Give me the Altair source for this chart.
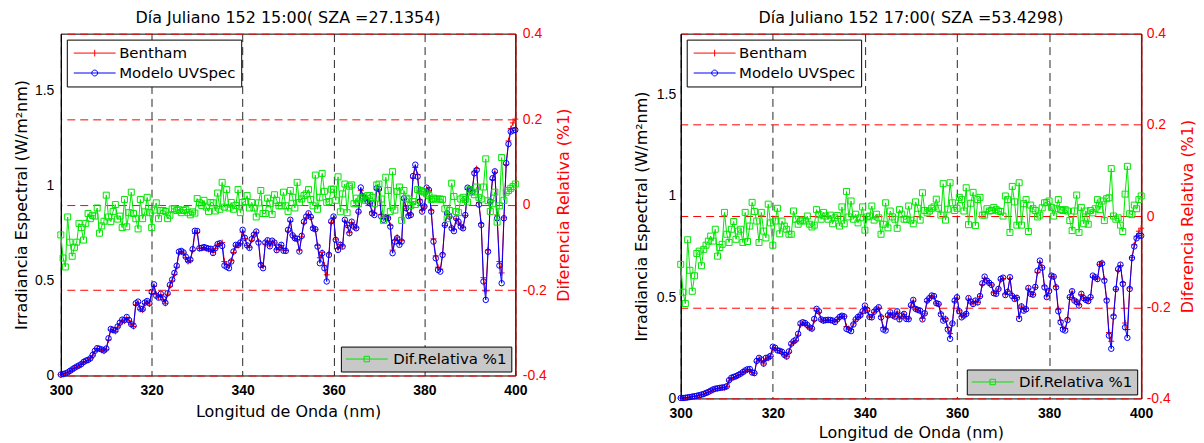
import altair as alt
import pandas as pd

TITLES = ["Día Juliano 152 15:00( SZA =27.1354)", "Día Juliano 152 17:00( SZA =53.4298)"]
SERIES = ["Bentham", "Modelo UVSpec"]
DIFF_NAME = "Dif.Relativa %1"
X_TICKS = [300, 320, 340, 360, 380, 400]
Y_TICKS = [0, 0.5, 1, 1.5]
R_TICKS = [-0.4, -0.2, 0, 0.2, 0.4]
WL_START = 300.0
WL_STEP = 0.5

# ---------------- left panel (15:00) ----------------
LEFT_MODEL = [
    0.005, 0.008, 0.011, 0.016, 0.024, 0.032, 0.040, 0.047, 0.053, 0.060,
    0.071, 0.078, 0.082, 0.090, 0.108, 0.130, 0.144, 0.141, 0.137, 0.132,
    0.142, 0.196, 0.245, 0.240, 0.237, 0.258, 0.278, 0.294, 0.291, 0.308,
    0.292, 0.270, 0.262, 0.380, 0.389, 0.352, 0.350, 0.384, 0.392, 0.380,
    0.440, 0.480, 0.420, 0.410, 0.430, 0.405, 0.383, 0.433, 0.477, 0.505,
    0.540, 0.578, 0.652, 0.656, 0.648, 0.625, 0.606, 0.610, 0.665, 0.762,
    0.761, 0.670, 0.672, 0.676, 0.672, 0.668, 0.667, 0.645, 0.670, 0.692,
    0.696, 0.682, 0.579, 0.572, 0.565, 0.600, 0.653, 0.688, 0.688, 0.700,
    0.767, 0.725, 0.685, 0.672, 0.718, 0.742, 0.758, 0.700, 0.582, 0.565,
    0.700, 0.712, 0.680, 0.710, 0.700, 0.660, 0.676, 0.688, 0.657, 0.656,
    0.767, 0.820, 0.738, 0.723, 0.720, 0.653, 0.735, 0.810, 0.837, 0.854,
    0.835, 0.775, 0.770, 0.679, 0.591, 0.644, 0.565, 0.495, 0.635, 0.812,
    0.837, 0.714, 0.661, 0.688, 0.679, 0.820, 0.793, 0.749, 0.810, 0.784,
    0.775, 0.863, 0.990, 0.942, 0.933, 0.916, 0.907, 0.854, 0.845, 0.986,
    0.982, 0.837, 0.820, 0.832, 0.828, 0.784, 0.644, 0.705, 0.723, 0.688,
    0.705, 0.933, 0.881, 0.840, 0.845, 1.050, 1.110, 1.047, 0.916, 0.863,
    0.890, 0.989, 0.977, 0.863, 0.705, 0.617, 0.556, 0.547, 0.635, 0.793,
    0.854, 0.837, 0.775, 0.760, 0.828, 0.810, 0.784, 0.775, 0.845, 0.989,
    0.982, 0.968, 1.065, 1.082, 0.900, 0.793, 0.495, 0.398, 0.652, 0.916,
    1.039, 1.075, 0.828, 0.579, 0.486, 0.828, 1.118, 1.219, 1.284, 1.290,
    1.293,
]
LEFT_BENTHAM = [
    0.004, 0.006, 0.010, 0.015, 0.022, 0.030, 0.038, 0.045, 0.051, 0.058,
    0.068, 0.075, 0.080, 0.088, 0.104, 0.126, 0.140, 0.139, 0.133, 0.128,
    0.138, 0.188, 0.240, 0.236, 0.232, 0.254, 0.272, 0.290, 0.286, 0.302,
    0.288, 0.268, 0.258, 0.372, 0.382, 0.348, 0.345, 0.378, 0.386, 0.376,
    0.432, 0.470, 0.428, 0.412, 0.425, 0.400, 0.380, 0.428, 0.470, 0.498,
    0.532, 0.570, 0.645, 0.652, 0.645, 0.620, 0.600, 0.605, 0.658, 0.748,
    0.752, 0.668, 0.670, 0.672, 0.668, 0.664, 0.662, 0.648, 0.668, 0.688,
    0.695, 0.700, 0.600, 0.585, 0.578, 0.605, 0.648, 0.682, 0.684, 0.695,
    0.755, 0.722, 0.685, 0.675, 0.712, 0.738, 0.752, 0.705, 0.590, 0.575,
    0.692, 0.708, 0.682, 0.705, 0.698, 0.662, 0.672, 0.684, 0.660, 0.658,
    0.760, 0.812, 0.740, 0.720, 0.716, 0.660, 0.730, 0.802, 0.830, 0.848,
    0.832, 0.780, 0.768, 0.685, 0.620, 0.648, 0.580, 0.530, 0.640, 0.805,
    0.830, 0.718, 0.668, 0.690, 0.682, 0.812, 0.790, 0.752, 0.805, 0.782,
    0.778, 0.860, 0.975, 0.945, 0.935, 0.920, 0.905, 0.862, 0.855, 0.978,
    0.978, 0.848, 0.828, 0.835, 0.830, 0.790, 0.660, 0.710, 0.728, 0.695,
    0.710, 0.925, 0.878, 0.845, 0.850, 1.040, 1.095, 1.058, 0.925, 0.870,
    0.892, 0.982, 0.975, 0.870, 0.720, 0.630, 0.570, 0.560, 0.640, 0.790,
    0.850, 0.835, 0.780, 0.770, 0.825, 0.808, 0.790, 0.778, 0.842, 0.980,
    0.978, 0.972, 1.072, 1.090, 0.910, 0.800, 0.515, 0.445, 0.660, 0.910,
    1.032, 1.070, 0.845, 0.600, 0.540, 0.830, 1.110, 1.235, 1.300, 1.330,
    1.350,
]
LEFT_DIFF = [
    -0.071, -0.125, -0.146, -0.029, -0.088, -0.121, -0.100, -0.088, -0.044, -0.054,
    -0.083, -0.044, -0.021, -0.033, -0.025, -0.027, -0.008, -0.067, -0.050, -0.039,
    0.022, -0.029, -0.040, -0.016, 0.000, -0.034, -0.027, -0.054, 0.012, -0.052,
    -0.019, 0.029, -0.021, -0.033, -0.057, 0.012, -0.033, -0.017, 0.017, -0.019,
    -0.054, -0.013, 0.004, -0.033, -0.014, -0.014, -0.016, -0.033, -0.025, -0.010,
    -0.010, -0.014, -0.012, -0.019, -0.014, -0.012, -0.019, -0.024, -0.017, -0.020,
    0.014, 0.004, -0.002, 0.010, -0.006, -0.016, 0.005, 0.004, -0.015, 0.027,
    -0.011, 0.052, -0.006, 0.035, -0.008, 0.005, -0.011, -0.002, 0.035, -0.019,
    0.005, 0.007, 0.021, -0.008, 0.005, -0.008, -0.029, 0.004, 0.033, -0.021,
    -0.021, 0.015, 0.002, -0.023, 0.023, 0.010, -0.003, -0.003, 0.029, -0.003,
    -0.016, 0.033, 0.017, -0.008, 0.052, 0.005, 0.013, 0.021, 0.025, 0.035,
    0.012, -0.003, 0.069, -0.011, 0.017, 0.073, 0.031, 0.005, 0.007, 0.036,
    0.036, 0.010, 0.065, -0.017, 0.025, 0.048, -0.019, 0.043, 0.046, 0.002,
    0.015, 0.002, 0.013, 0.017, 0.010, 0.021, 0.021, 0.017, 0.002, 0.046,
    0.048, 0.013, -0.037, 0.064, 0.033, -0.016, 0.077, -0.013, 0.031, 0.041,
    -0.037, 0.033, 0.015, 0.013, -0.002, 0.007, 0.000, 0.035, 0.033, 0.031,
    0.029, 0.025, 0.021, 0.012, 0.015, 0.013, 0.013, 0.013, 0.012, -0.010,
    -0.033, -0.014, 0.050, 0.019, -0.016, -0.019, 0.013, 0.017, 0.012, 0.006,
    0.035, 0.029, 0.023, 0.041, 0.017, 0.013, 0.041, 0.107, 0.009, -0.016,
    0.002, 0.029, -0.041, -0.003, 0.110, 0.010, 0.029, 0.033, 0.038, 0.042,
    0.048,
]

# ---------------- right panel (17:00) ----------------
RIGHT_MODEL = [
    0.002, 0.002, 0.003, 0.005, 0.007, 0.009, 0.011, 0.013, 0.016, 0.019,
    0.022, 0.027, 0.032, 0.038, 0.044, 0.048, 0.050, 0.052, 0.054, 0.055,
    0.060, 0.090, 0.102, 0.106, 0.110, 0.116, 0.122, 0.130, 0.138, 0.144,
    0.145, 0.128, 0.125, 0.185, 0.200, 0.192, 0.172, 0.200, 0.202, 0.210,
    0.255, 0.250, 0.237, 0.235, 0.230, 0.215, 0.207, 0.232, 0.270, 0.282,
    0.290, 0.319, 0.370, 0.376, 0.372, 0.362, 0.350, 0.345, 0.392, 0.442,
    0.430, 0.390, 0.384, 0.387, 0.388, 0.387, 0.384, 0.377, 0.390, 0.402,
    0.408, 0.404, 0.343, 0.338, 0.332, 0.365, 0.390, 0.402, 0.410, 0.430,
    0.458, 0.437, 0.402, 0.400, 0.428, 0.440, 0.450, 0.400, 0.340, 0.335,
    0.410, 0.425, 0.410, 0.404, 0.430, 0.390, 0.409, 0.417, 0.392, 0.391,
    0.460, 0.486, 0.442, 0.437, 0.433, 0.390, 0.420, 0.483, 0.495, 0.508,
    0.505, 0.470, 0.466, 0.415, 0.384, 0.390, 0.340, 0.294, 0.370, 0.483,
    0.499, 0.430, 0.400, 0.409, 0.417, 0.495, 0.478, 0.466, 0.483, 0.474,
    0.505, 0.568, 0.601, 0.581, 0.570, 0.560, 0.519, 0.516, 0.540, 0.590,
    0.596, 0.510, 0.525, 0.598, 0.505, 0.491, 0.496, 0.392, 0.454, 0.433,
    0.440, 0.545, 0.516, 0.512, 0.550, 0.630, 0.680, 0.645, 0.548, 0.500,
    0.530, 0.606, 0.601, 0.548, 0.430, 0.376, 0.340, 0.335, 0.387, 0.500,
    0.529, 0.483, 0.475, 0.458, 0.516, 0.495, 0.486, 0.480, 0.500, 0.606,
    0.598, 0.589, 0.663, 0.666, 0.581, 0.483, 0.310, 0.245, 0.404, 0.540,
    0.638, 0.660, 0.565, 0.351, 0.299, 0.540, 0.693, 0.750, 0.790, 0.803,
    0.803,
]
RIGHT_BENTHAM = [
    0.002, 0.002, 0.003, 0.005, 0.006, 0.008, 0.010, 0.012, 0.015, 0.018,
    0.021, 0.026, 0.030, 0.036, 0.042, 0.046, 0.049, 0.051, 0.052, 0.053,
    0.058, 0.086, 0.098, 0.103, 0.107, 0.113, 0.119, 0.127, 0.134, 0.140,
    0.142, 0.128, 0.124, 0.180, 0.195, 0.186, 0.170, 0.195, 0.198, 0.206,
    0.248, 0.245, 0.238, 0.234, 0.228, 0.214, 0.206, 0.228, 0.264, 0.276,
    0.285, 0.312, 0.362, 0.370, 0.368, 0.358, 0.346, 0.342, 0.385, 0.432,
    0.425, 0.388, 0.382, 0.385, 0.386, 0.385, 0.382, 0.378, 0.388, 0.400,
    0.406, 0.405, 0.355, 0.345, 0.340, 0.368, 0.388, 0.400, 0.406, 0.426,
    0.450, 0.432, 0.402, 0.401, 0.425, 0.437, 0.446, 0.405, 0.350, 0.342,
    0.405, 0.420, 0.408, 0.403, 0.426, 0.392, 0.406, 0.414, 0.394, 0.393,
    0.455, 0.480, 0.440, 0.435, 0.430, 0.395, 0.418, 0.478, 0.492, 0.504,
    0.502, 0.470, 0.465, 0.420, 0.392, 0.394, 0.350, 0.320, 0.372, 0.478,
    0.495, 0.432, 0.405, 0.410, 0.418, 0.490, 0.475, 0.466, 0.480, 0.474,
    0.502, 0.562, 0.592, 0.580, 0.570, 0.560, 0.522, 0.518, 0.540, 0.585,
    0.592, 0.515, 0.528, 0.592, 0.508, 0.494, 0.498, 0.405, 0.456, 0.438,
    0.444, 0.540, 0.515, 0.512, 0.548, 0.622, 0.670, 0.645, 0.555, 0.506,
    0.535, 0.602, 0.600, 0.552, 0.440, 0.385, 0.350, 0.345, 0.392, 0.498,
    0.525, 0.485, 0.478, 0.462, 0.512, 0.494, 0.487, 0.482, 0.498, 0.598,
    0.596, 0.590, 0.660, 0.670, 0.588, 0.490, 0.325, 0.282, 0.410, 0.538,
    0.632, 0.656, 0.572, 0.372, 0.340, 0.545, 0.695, 0.758, 0.800, 0.825,
    0.840,
]
RIGHT_DIFF = [
    -0.106, -0.167, -0.192, -0.052, -0.119, -0.165, -0.131, -0.082, -0.077, -0.109,
    -0.073, -0.064, -0.055, -0.044, -0.055, -0.029, -0.088, -0.069, -0.062, 0.008,
    -0.040, -0.058, -0.029, -0.012, -0.051, -0.033, -0.029, -0.058, 0.008, -0.056,
    -0.022, 0.030, 0.010, -0.011, -0.058, 0.008, -0.033, -0.048, 0.026, -0.015,
    -0.064, -0.011, 0.017, -0.039, -0.011, -0.022, -0.029, -0.040, -0.040, 0.011,
    -0.007, -0.018, -0.011, -0.009, -0.011, 0.000, -0.018, -0.024, -0.020, 0.014,
    0.003, -0.007, 0.008, 0.000, -0.007, 0.002, -0.017, -0.004, 0.001, -0.022,
    0.020, -0.017, 0.054, -0.002, 0.033, -0.007, 0.004, -0.015, -0.004, 0.020,
    -0.031, -0.002, 0.000, 0.022, -0.009, 0.004, -0.004, -0.040, -0.018, 0.029,
    -0.026, 0.011, -0.002, -0.007, -0.027, 0.014, 0.004, -0.007, -0.007, 0.022,
    -0.009, -0.017, 0.031, 0.017, -0.009, 0.051, 0.012, 0.007, 0.011, 0.017,
    0.020, 0.037, 0.017, 0.002, 0.071, -0.009, 0.015, 0.073, 0.029, 0.012,
    0.017, 0.041, 0.036, 0.011, 0.062, -0.019, 0.028, 0.052, -0.021, 0.036,
    0.041, 0.002, 0.002, 0.016, 0.011, 0.012, 0.019, 0.014, 0.011, 0.010,
    0.000, 0.044, 0.036, -0.036, 0.065, 0.031, -0.020, 0.073, -0.020, 0.027,
    0.036, -0.034, 0.024, 0.016, 0.012, -0.002, 0.002, 0.018, 0.029, 0.030,
    0.033, 0.019, 0.000, 0.016, 0.036, 0.014, 0.012, 0.014, 0.011, -0.010,
    -0.032, 0.011, 0.046, -0.036, 0.019, -0.017, 0.011, -0.018, 0.012, 0.007,
    0.016, 0.036, 0.014, 0.033, -0.010, 0.038, 0.040, 0.104, 0.000, -0.007,
    -0.004, -0.020, -0.034, 0.048, 0.109, 0.005, 0.003, 0.024, 0.016, 0.036,
    0.044,
]

for _lst in (LEFT_MODEL, LEFT_BENTHAM, LEFT_DIFF, RIGHT_MODEL, RIGHT_BENTHAM, RIGHT_DIFF):
    assert len(_lst) == 201, len(_lst)

RED = "#ff0000"
BLUE = "#0000ff"
GREEN = "#00e600"
PLUS = "M-1,0H1M0,-1V1"
LEG_PLUS = "M-1,0H1M0,-0.16V0.16"
LEG_CIRCLE = "M-1,0H1M0.14,0A0.14,0.14,0,1,1,-0.14,0A0.14,0.14,0,1,1,0.14,0"
LEG_SQUARE = "M-1,0H1M-0.13,-0.13H0.13V0.13H-0.13Z"
TXT_FONT = "DejaVu Sans"
NUM_FONT = "Liberation Sans"


def make_panel(title, model, bentham, diff, w, h, lp_l, tp_l, lp_r, tp_r, x_tp):
    n = len(model)
    wl = [WL_START + WL_STEP * i for i in range(n)]
    df_m = pd.DataFrame({"lam": wl, "val": model, "series": SERIES[1]})
    df_b = pd.DataFrame({"lam": wl, "val": bentham, "series": SERIES[0]})
    df_d = pd.DataFrame({"lam": wl, "dif": diff, "series": DIFF_NAME})

    x_axis = alt.Axis(values=X_TICKS, title="Longitud de Onda (nm)", grid=True,
                      gridColor="#000000", gridDash=[8, 5], gridWidth=1, gridOpacity=0.85,
                      ticks=False, domain=False, labelFlush=False,
                      labelFont=NUM_FONT, labelFontSize=14, labelFontWeight="bold",
                      labelColor="#000000", labelPadding=8,
                      titleFont=TXT_FONT, titleFontSize=16, titleFontWeight="normal",
                      titleColor="#000000", titlePadding=x_tp)
    x = alt.X("lam:Q", scale=alt.Scale(domain=[300, 400], nice=False, zero=False), axis=x_axis)

    y_axis = alt.Axis(values=Y_TICKS, format="~g", orient="left",
                      title="Irradiancia Espectral (W/m²nm)", grid=False, ticks=False,
                      domain=True, domainColor="#000000", labelFlush=False,
                      labelFont=NUM_FONT, labelFontSize=14, labelColor="#000000",
                      labelPadding=lp_l, titleFont=TXT_FONT, titleFontSize=16,
                      titleFontWeight="normal", titleColor="#000000", titlePadding=tp_l)
    y = alt.Y("val:Q", scale=alt.Scale(domain=[0, 1.8], nice=False, zero=False), axis=y_axis)

    r_axis = alt.Axis(values=R_TICKS, orient="right",
                      labelExpr="datum.value < 0 ? '-' + format(-datum.value, '~g') : format(datum.value, '~g')",
                      title="Diferencia Relativa (%1)", grid=True, gridColor=RED,
                      gridDash=[8, 5], gridWidth=1, ticks=False, domain=True,
                      domainColor="#b00000", domainWidth=1.5, labelFlush=False,
                      labelFont=NUM_FONT, labelFontSize=14, labelColor=RED,
                      labelPadding=lp_r, titleFont=TXT_FONT, titleFontSize=16,
                      titleFontWeight="normal", titleColor=RED, titlePadding=tp_r,
                      titleAngle=270, titleBaseline="top")
    yr = alt.Y("dif:Q", scale=alt.Scale(domain=[-0.4, 0.4], nice=False, zero=False), axis=r_axis)

    leg_top = alt.Legend(title=None, orient="top-left", offset=6, padding=5,
                         fillColor="#ffffff", strokeColor="#000000", clipHeight=17,
                         rowPadding=3, symbolSize=1764, symbolOffset=1.5, labelOffset=3,
                         symbolStrokeWidth=1, symbolOpacity=1, labelFont=TXT_FONT,
                         labelFontSize=15, labelColor="#000000", labelLimit=300)
    leg_bot = alt.Legend(title=None, orient="bottom-right", offset=4, padding=4,
                         fillColor="#c8c8c8", strokeColor="#000000", clipHeight=17,
                         symbolSize=1764, symbolOffset=0.5, labelOffset=5,
                         symbolStrokeWidth=1, symbolOpacity=1, labelFont=TXT_FONT,
                         labelFontSize=15, labelColor="#000000", labelLimit=300)

    red_line = alt.Chart(df_b).mark_line(color=RED, strokeWidth=1).encode(x=x, y=y)
    red_pts = alt.Chart(df_b).mark_point(shape=PLUS, size=36, color=RED, filled=False,
                                         strokeWidth=1, opacity=1).encode(x=x, y=y)
    blue_line = alt.Chart(df_m).mark_line(color=BLUE, strokeWidth=1).encode(x=x, y=y)
    blue_pts = alt.Chart(df_m).mark_point(shape="circle", size=30, color=BLUE, filled=False,
                                          strokeWidth=1, opacity=1).encode(x=x, y=y)
    leg1 = alt.Chart(pd.concat([df_b, df_m])).transform_filter("false").mark_point(
        filled=False, opacity=1, strokeWidth=1).encode(
        color=alt.Color("series:N", scale=alt.Scale(domain=SERIES, range=[RED, BLUE]), legend=leg_top),
        shape=alt.Shape("series:N", scale=alt.Scale(domain=SERIES, range=[LEG_PLUS, LEG_CIRCLE]), legend=leg_top),
    )

    green_line = alt.Chart(df_d).mark_line(color=GREEN, strokeWidth=1).encode(x=x, y=yr)
    green_pts = alt.Chart(df_d).mark_point(shape="square", size=36, color=GREEN, filled=False,
                                           strokeWidth=1, opacity=1).encode(x=x, y=yr)
    leg2 = alt.Chart(df_d).transform_filter("false").mark_point(
        filled=False, opacity=1, strokeWidth=1).encode(
        color=alt.Color("series:N", scale=alt.Scale(domain=[DIFF_NAME], range=[GREEN]), legend=leg_bot),
        shape=alt.Shape("series:N", scale=alt.Scale(domain=[DIFF_NAME], range=[LEG_SQUARE]), legend=leg_bot),
    )

    left = alt.layer(red_line, red_pts, blue_line, blue_pts, leg1)
    right = alt.layer(green_line, green_pts, leg2)
    return alt.layer(left, right).resolve_scale(
        y="independent", color="independent", shape="independent"
    ).resolve_legend(color="independent", shape="independent").properties(
        width=w, height=h,
        title=alt.TitleParams(text=title, font=TXT_FONT, fontSize=16, fontWeight="normal",
                              color="#000000", anchor="middle", frame="group", offset=1),
    )


p1 = make_panel(TITLES[0], LEFT_MODEL, LEFT_BENTHAM, LEFT_DIFF, 456, 343, 7, 5, 7, 9, 6)
p2 = make_panel(TITLES[1], RIGHT_MODEL, RIGHT_BENTHAM, RIGHT_DIFF, 462, 366, 5, 7, 5, 9, 4)

chart = alt.hconcat(p1, p2, spacing=61).resolve_scale(
    x="independent", y="independent", color="independent", shape="independent"
).resolve_legend(color="independent", shape="independent").properties(
    padding={"left": 5, "top": 0, "right": 0, "bottom": 0}
).configure_view(stroke="#000000", strokeWidth=1)

chart.save("out.html", embed_options={"renderer": "svg", "actions": False})
